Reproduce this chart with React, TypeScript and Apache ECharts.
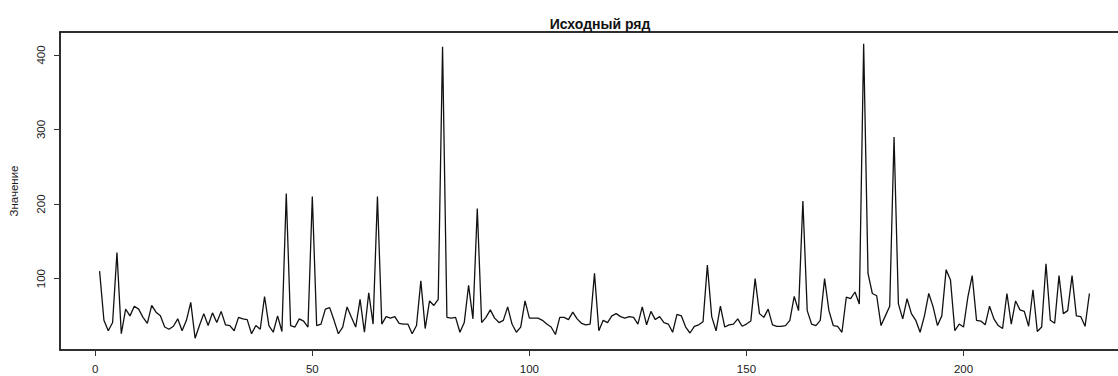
import React, { useEffect, useRef } from "react";
import * as echarts from "echarts";

const titleText = "Исходный ряд";
const yName = "Значение";
const xTicks = [0, 50, 100, 150, 200];
const yTicks = [100, 200, 300, 400];

const values = [
  110, 44, 30, 41, 135, 26, 59, 50, 63, 59,
  48, 40, 64, 55, 50, 35, 32, 36, 46, 30,
  44, 68, 20, 37, 53, 37, 54, 41, 56, 38,
  37, 30, 48, 46, 45, 26, 37, 32, 76, 37,
  28, 50, 29, 214, 37, 35, 46, 43, 35, 210,
  37, 39, 59, 61, 44, 26, 35, 62, 48, 35,
  72, 28, 81, 39, 210, 39, 49, 47, 49, 40,
  39, 39, 26, 37, 97, 33, 70, 64, 72, 411,
  48, 47, 48, 28, 41, 91, 46, 194, 41, 48,
  58, 47, 41, 44, 62, 39, 28, 35, 70, 47,
  47, 47, 44, 39, 35, 25, 48, 48, 45, 55,
  46, 40, 38, 39, 107, 30, 44, 41, 50, 53,
  49, 47, 49, 48, 39, 62, 38, 56, 45, 49,
  41, 39, 28, 52, 50, 35, 27, 36, 38, 42,
  118, 49, 30, 63, 35, 38, 39, 46, 36, 39,
  43, 100, 53, 48, 59, 38, 36, 36, 37, 44,
  76, 57, 204, 57, 39, 37, 44, 100, 57, 37,
  36, 28, 75, 73, 82, 66, 415, 107, 80, 77,
  37, 50, 63, 290, 66, 46, 73, 53, 44, 28,
  50, 80, 62, 37, 50, 112, 98, 30, 39, 35,
  75, 104, 44, 43, 38, 63, 46, 37, 33, 80,
  39, 70, 58, 56, 36, 85, 29, 35, 120, 44,
  40, 104, 53, 57, 104, 50, 49, 36, 80,
];

export default function App() {
  const ref = useRef<HTMLDivElement>(null);
  useEffect(() => {
    if (!ref.current) return;
    const chart = echarts.init(ref.current, undefined, { renderer: "svg" });
    const n = values.length;
    const data = values.map((v, i) => [i + 1, v]);
    const xr = n - 1;
    const xMin = 1 - 0.04 * xr;
    const xMax = n + 0.04 * xr;
    const vMin = Math.min(...values);
    const vMax = Math.max(...values);
    const yr = vMax - vMin;
    const yMin = vMin - 0.04 * yr;
    const yMax = vMax + 0.04 * yr;
    const font = "'Liberation Sans', Arial, sans-serif";
    const ink = "#1a1a1a";
    const frame = { show: true, onZero: false, lineStyle: { color: "#222", width: 1.5 } };
    chart.setOption({
      animation: false,
      title: {
        text: titleText,
        left: 595,
        top: 12,
        textAlign: "center",
        textStyle: { fontFamily: font, fontWeight: "bold", fontSize: 14, color: "#111" },
      },
      grid: {
        left: 60,
        right: 11,
        top: 32,
        bottom: 26,
        show: true,
        borderColor: "#222",
        borderWidth: 1.5,
        backgroundColor: "rgba(0,0,0,0)",
      },
      xAxis: [
        {
          type: "value",
          position: "bottom",
          min: xMin,
          max: xMax,
          axisLine: frame,
          splitLine: { show: false },
          axisTick: {
            show: true,
            length: 6,
            customValues: xTicks,
            lineStyle: { color: "#333", width: 1 },
          },
          axisLabel: {
            customValues: xTicks,
            margin: 13,
            fontSize: 11.5,
            fontFamily: font,
            color: ink,
          },
        },
        {
          type: "value",
          position: "top",
          min: xMin,
          max: xMax,
          axisLine: frame,
          splitLine: { show: false },
          axisTick: { show: false },
          axisLabel: { show: false },
        },
      ],
      yAxis: [
        {
          type: "value",
          position: "left",
          min: yMin,
          max: yMax,
          name: yName,
          nameLocation: "middle",
          nameRotate: 90,
          nameGap: 40,
          nameTextStyle: { fontFamily: font, fontSize: 11.5, color: ink },
          axisLine: frame,
          splitLine: { show: false },
          axisTick: {
            show: true,
            length: 6,
            customValues: yTicks,
            lineStyle: { color: "#333", width: 1 },
          },
          axisLabel: {
            customValues: yTicks,
            rotate: 90,
            margin: 13,
            fontSize: 11.5,
            fontFamily: font,
            color: ink,
          },
        },
        {
          type: "value",
          position: "right",
          min: yMin,
          max: yMax,
          axisLine: frame,
          splitLine: { show: false },
          axisTick: { show: false },
          axisLabel: { show: false },
        },
      ],
      series: [
        {
          type: "line",
          data,
          showSymbol: false,
          symbol: "none",
          lineStyle: { color: "#111", width: 1.3 },
        },
      ],
    });
    return () => chart.dispose();
  }, []);
  return (
    <div
      ref={ref}
      style={{ position: "fixed", left: 0, top: 0, width: 1140, height: 376, background: "#fff" }}
    />
  );
}
